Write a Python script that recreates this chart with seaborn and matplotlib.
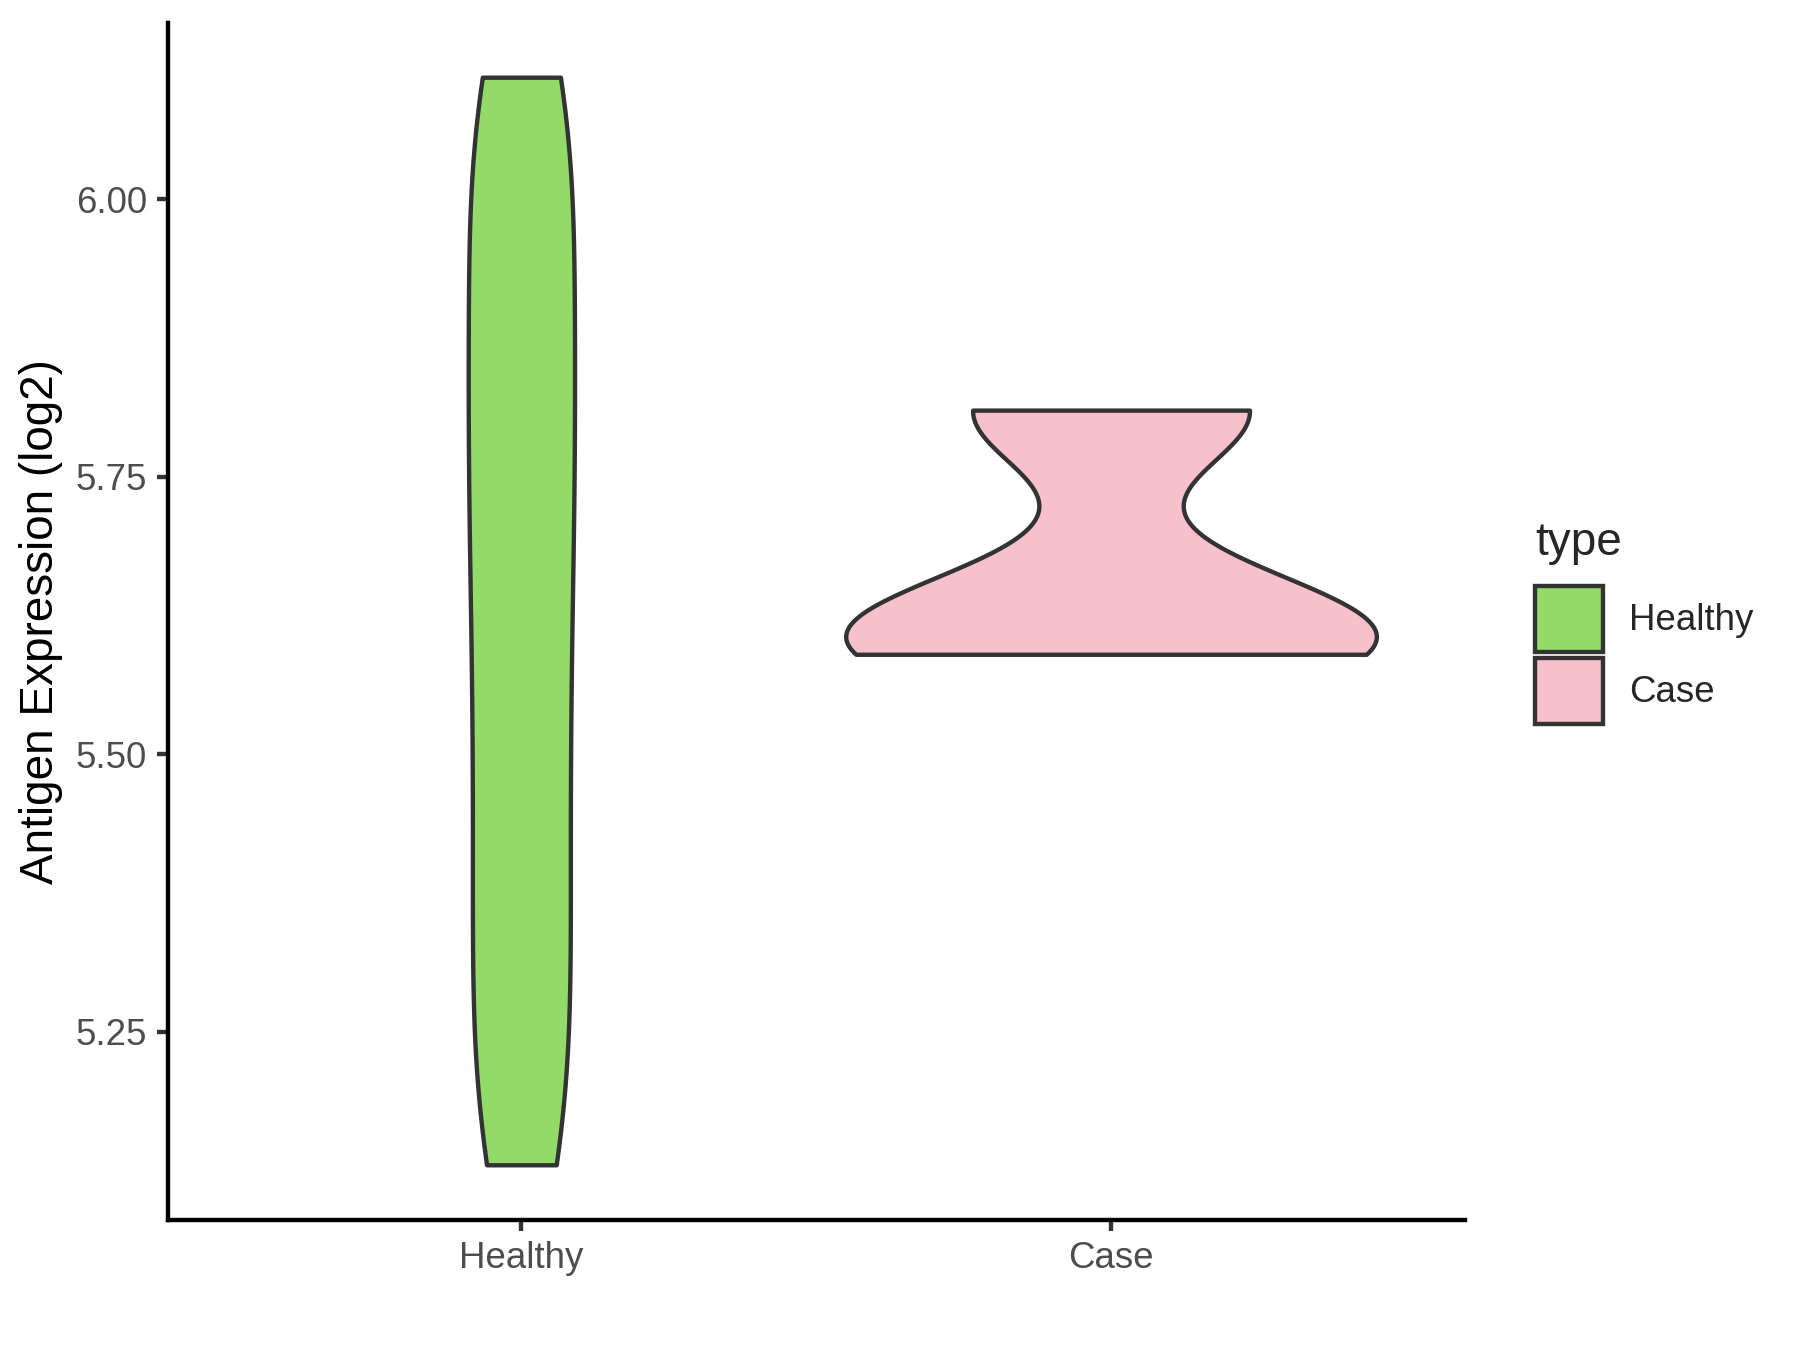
import numpy as np
import pandas as pd
import matplotlib
matplotlib.use('Agg')
import matplotlib.pyplot as plt
from matplotlib.patches import Patch
import seaborn as sns

sns.set_style('white')
plt.rcParams['font.family'] = ['Liberation Sans', 'DejaVu Sans']

# sample values
healthy_vals = [5.13, 5.13, 5.175, 5.22, 5.265, 5.31, 5.355, 5.40, 5.445, 5.49, 5.535,
                5.58, 5.625, 5.67, 5.71, 5.75, 5.79, 5.83, 5.87, 5.91, 5.955, 6.00,
                6.045, 6.09, 6.11, 6.11]
case_vals = [5.59, 5.595, 5.61, 5.63, 5.81, 5.81]
groups = ['Healthy', 'Case']
colors = ['#93DB69', '#F7C0CA']
y_ticks = [5.25, 5.50, 5.75, 6.00]

df = pd.DataFrame({
    'type': ['Healthy'] * len(healthy_vals) + ['Case'] * len(case_vals),
    'value': healthy_vals + case_vals,
})

fig = plt.figure(figsize=(6, 4.5), dpi=300)
ax = fig.add_axes([0.0931, 0.0961, 0.7207, 0.887])

# no hue, so 'area' scaling is shared between the two violins
sns.violinplot(data=df, x='type', y='value', order=groups, color=colors[0],
               cut=0, inner=None, width=0.9, density_norm='area',
               bw_adjust=0.74, linewidth=1.05, linecolor='#333333', saturation=1,
               ax=ax)
for coll, c in zip(ax.collections, colors):
    coll.set_facecolor(c)

ax.set_xlim(-0.6, 1.6)
ax.set_ylim(5.080, 6.159)
ax.set_yticks(y_ticks)
ax.set_yticklabels([f'{t:.2f}' for t in y_ticks])
ax.set_xlabel('')
ax.set_ylabel('Antigen Expression (log2)', fontsize=11, color='black', labelpad=3)

for s in ['top', 'right']:
    ax.spines[s].set_visible(False)
for s in ['left', 'bottom']:
    ax.spines[s].set_color('black')
    ax.spines[s].set_linewidth(1.05)
ax.tick_params(axis='both', which='major', length=2.75, width=1.05, color='#333333',
               labelsize=8.8, labelcolor='#4D4D4D', pad=2.2, direction='out',
               left=True, bottom=True)

handles = [Patch(facecolor=c, edgecolor='#333333', linewidth=1.05) for c in colors]
leg = fig.legend(handles, groups, title='type', loc='center left',
                 bbox_to_anchor=(0.853, 0.539), frameon=False, fontsize=8.8,
                 title_fontsize=11, alignment='left', handlelength=1.85,
                 handleheight=2.4, labelspacing=0.15, handletextpad=0.7,
                 borderpad=0, borderaxespad=0)
leg._legend_box.sep = 5

fig.savefig('out.png', dpi=300)
